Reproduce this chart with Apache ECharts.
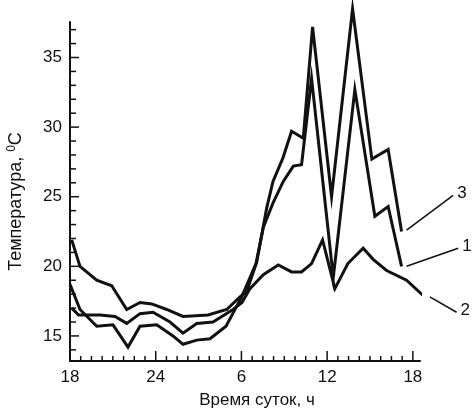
<!DOCTYPE html>
<html>
<head>
<meta charset="utf-8">
<script src="https://cdn.jsdelivr.net/npm/echarts@6/dist/echarts.min.js"></script>
<style>
  html, body { margin: 0; padding: 0; background: #fff; }
  #main { width: 475px; height: 409px; }
</style>
</head>
<body>
<div id="main"></div>
<script>
// hours counted from 18:00 of the first day
const hours1 = [0, 0.7, 1.87, 3.01, 4.06, 4.9, 6.07, 7.21, 7.91, 8.87, 9.8, 10.92, 12.02, 13.02, 13.53, 14.23, 14.93, 15.63, 16.21, 16.91, 18.43, 19.94, 21.34, 22.27, 23.21];
const temp1 = [18.7, 16.9, 15.7, 15.8, 14.2, 15.7, 15.8, 15.0, 14.4, 14.7, 14.8, 15.7, 17.8, 20.2, 22.8, 24.6, 26.1, 27.2, 27.3, 33.5, 19.2, 32.7, 23.6, 24.3, 20.0];

const hours2 = [0.12, 0.6, 2.1, 3.15, 3.97, 4.9, 5.81, 7.0, 7.91, 8.87, 10.01, 11.41, 12.04, 12.6, 13.53, 14.58, 15.51, 16.21, 16.91, 17.68, 18.54, 19.45, 20.52, 21.22, 22.16, 23.56, 24.72];
const temp2 = [17.0, 16.5, 16.5, 16.4, 15.9, 16.6, 16.7, 16.0, 15.2, 15.9, 16.0, 16.9, 17.4, 18.4, 19.4, 20.1, 19.6, 19.6, 20.2, 21.9, 18.4, 20.2, 21.3, 20.5, 19.7, 19.0, 17.9];

const hours3 = [0.12, 0.7, 1.87, 2.92, 3.97, 4.9, 5.72, 6.77, 7.91, 9.66, 10.97, 11.9, 12.37, 13.07, 13.77, 14.21, 14.91, 15.51, 16.33, 16.98, 18.31, 19.78, 21.13, 22.27, 23.21];
const temp3 = [21.9, 20.0, 19.0, 18.6, 16.9, 17.4, 17.3, 16.9, 16.4, 16.5, 16.9, 17.8, 18.2, 20.3, 24.2, 26.1, 27.8, 29.7, 29.2, 37.2, 25.0, 38.5, 27.7, 28.4, 22.5];

// callout lines to the curve numbers: [x1, y1, x2, y2, label]
const leaders = [
  [23.56, 20.0, 27.17, 21.3, '1'],
  [25.19, 17.8, 27.06, 16.7, '2'],
  [23.56, 22.6, 26.82, 25.1, '3']
];

const xTickValues = [0, 6, 12, 18, 24];
const xTickLabels = ['18', '24', '6', '12', '18'];
const yTickValues = [15, 20, 25, 30, 35];

const xMinor = [];
for (let h = 0.75; h < 24; h += 0.75) if (h % 6) xMinor.push(h);
const yMinor = [];
for (let t = 14; t <= 37; t++) if (t % 5) yMinor.push(t);

const toPairs = (xs, ys) => xs.map((x, i) => [x, ys[i]]);

const myChart = echarts.init(document.getElementById('main'));

const ink = '#111';
const font = 'Liberation Sans, Arial, sans-serif';
const xRange = { min: 0, max: 24.5 };
const yRange = { min: 13.2, max: 37.55 };

// inward ticks, anchored on the axes: [x, y, dx px, dy px]
const ticks = [
  ...xTickValues.map(v => [v, yRange.min, 0, -10]),
  ...xMinor.map(v => [v, yRange.min, 0, -5]),
  ...yTickValues.map(v => [xRange.min, v, 9, 0]),
  ...yMinor.map(v => [xRange.min, v, 6, 0])
];

const curve = (name, data) => ({
  name: name,
  type: 'line',
  data: data,
  symbol: 'none',
  clip: false,
  lineStyle: { color: ink, width: 3, join: 'miter' },
  silent: true
});

const option = {
  backgroundColor: '#fff',
  animation: false,
  grid: {
    left: 70,
    right: 55,
    top: 22,
    bottom: 48,
    outerBoundsMode: 'none'
  },
  xAxis: {
    type: 'value',
    ...xRange,
    name: 'Время суток, ч',
    nameLocation: 'middle',
    nameGap: 31,
    nameTextStyle: { color: ink, fontFamily: font, fontSize: 17, padding: [0, 0, 0, 24] },
    axisLine: { show: true, lineStyle: { color: ink, width: 2 } },
    axisTick: { show: false },
    axisLabel: {
      customValues: xTickValues,
      color: ink,
      fontFamily: font,
      fontSize: 17,
      margin: 8,
      formatter: v => xTickLabels[xTickValues.indexOf(v)]
    },
    splitLine: { show: false }
  },
  yAxis: {
    type: 'value',
    ...yRange,
    name: 'Температура, {sup|0}C',
    nameLocation: 'middle',
    nameRotate: 90,
    nameGap: 44,
    nameTextStyle: {
      color: ink,
      fontFamily: font,
      fontSize: 18,
      padding: [0, 20, 0, 0],
      rich: { sup: { fontSize: 12, verticalAlign: 'top', padding: [0, 0, 8, 0], fontFamily: font, color: ink } }
    },
    axisLine: { show: true, lineStyle: { color: ink, width: 2 } },
    axisTick: { show: false },
    axisLabel: { customValues: yTickValues, color: ink, fontFamily: font, fontSize: 17, margin: 8 },
    splitLine: { show: false }
  },
  series: [
    curve('1', toPairs(hours1, temp1)),
    curve('2', toPairs(hours2, temp2)),
    curve('3', toPairs(hours3, temp3)),
    {
      type: 'custom',
      data: leaders,
      silent: true,
      clip: false,
      renderItem: (params, api) => {
        const a = api.coord([api.value(0), api.value(1)]);
        const b = api.coord([api.value(2), api.value(3)]);
        const label = leaders[params.dataIndex][4];
        return {
          type: 'group',
          children: [{
            type: 'line',
            shape: { x1: a[0], y1: a[1], x2: b[0], y2: b[1] },
            style: { stroke: ink, lineWidth: 1.5 }
          }, {
            type: 'text',
            x: b[0] + 4,
            y: b[1] - 2,
            style: { text: label, fill: ink, fontFamily: font, fontSize: 17, align: 'left', verticalAlign: 'middle' }
          }]
        };
      }
    },
    {
      type: 'custom',
      data: ticks,
      silent: true,
      clip: false,
      renderItem: (params, api) => {
        const a = api.coord([api.value(0), api.value(1)]);
        return {
          type: 'group',
          children: [{
            type: 'line',
            shape: { x1: a[0], y1: a[1], x2: a[0] + api.value(2), y2: a[1] + api.value(3) },
            style: { stroke: ink, lineWidth: 1.5 }
          }]
        };
      }
    }
  ]
};

myChart.setOption(option);
</script>
</body>
</html>
